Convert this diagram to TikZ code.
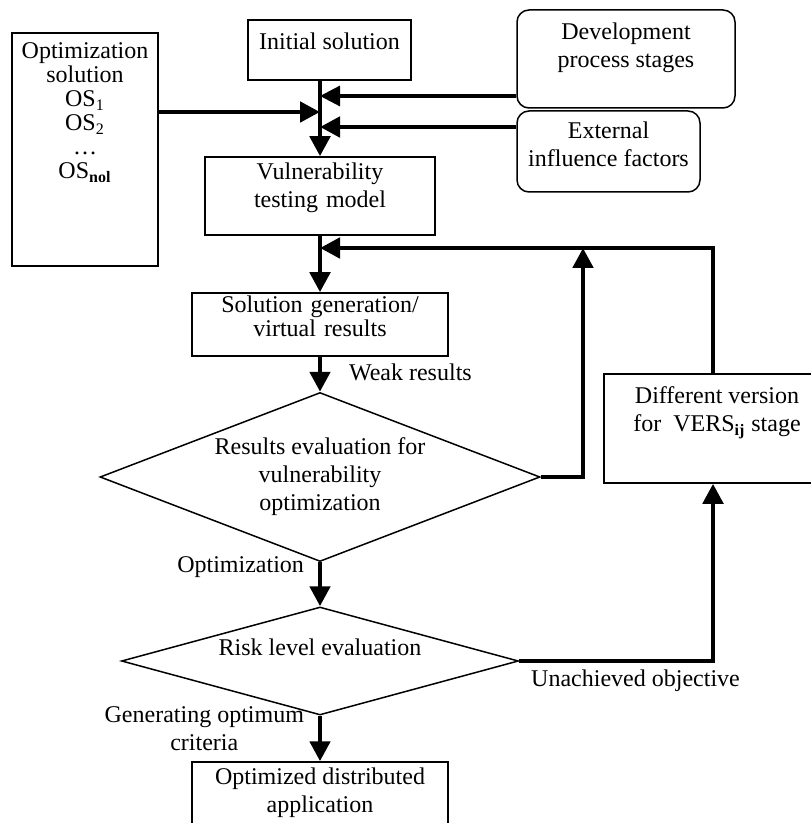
\documentclass[tikz,border=0pt]{standalone}
\usepackage{fontspec}
\setmainfont{Liberation Serif}
\usetikzlibrary{shapes.geometric, arrows.meta, calc, positioning, fit}

\begin{document}
\begin{tikzpicture}[x=0.5pt, y=-0.5pt, arrow/.style = {line width=2.4pt,-{Triangle[length=10pt,width=10pt]}}]
	\tikzset{set/.style={draw,rectangle,inner sep=0pt,line width=0.75pt,align=center},
		toptext/.style={anchor=north,inner sep=0pt,align=center,font=\fontsize{12}{14}\selectfont},
		decision/.style={draw,diamond,inner sep=0pt,line width=0.75pt,align=center},
		every node/.append style={font=\fontsize{12}{14}\selectfont}}
	\useasboundingbox (0,0) rectangle (810,823);

	% Inputs
	\node[fit={(12,33) (158,266)}, set, label={[toptext, yshift=-5pt, font=\fontsize{12}{12}\selectfont]north:{Optimization\\solution\\OS\textsubscript{1}\\OS\textsubscript{2}\\\dots\\OS\textsubscript{\textbf{nol}}}}] (os) {};
	\node[fit={(248,20) (411,80)}, set, label={[toptext, yshift=-6.5pt]north:Initial solution}] (init) {};
	\node[fit={(517,10) (735,108)}, set, rounded corners=6pt, label={[toptext, yshift=-6.5pt]north:{Development\\process stages}}] (dev) {};
	\node[fit={(517,111) (700,192)}, set, rounded corners=6pt, label={[toptext, yshift=-5.5pt]north:{External\\influence factors}}] (ext) {};

	% Model and evaluation
	\node[fit={(205,157) (435,235)}, set] (vuln) {Vulnerability\\testing model};
	\node[fit={(192,293) (448,356)}, set] (solgen) {Solution generation/\\[-2pt]virtual results};
	\node[decision, aspect=2.6, minimum width=220pt, minimum height=84.5pt] (eval) at (320,477) {Results evaluation for\\vulnerability\\optimization};
	\node[decision, aspect=3.67, minimum width=198.5pt, minimum height=54pt] (risk) at (320,661) {Risk level evaluation\\ \mbox{}};
	\node[fit={(604,374) (812,483)}, set, label={[toptext, yshift=-6.5pt, xshift=4.5pt]north:{Different version\\for\ \ VERS\textsubscript{\textbf{ij}} stage}}] (diffv) {};
	\node[fit={(192,762) (448,850)}, set, label={[toptext, yshift=-3pt]north:{Optimized distributed\\application}}] (opt) {};

	% Junctions
	\coordinate (jdev) at (320,96);
	\coordinate (jos) at (320,112);
	\coordinate (jext) at (320,127);
	\coordinate (jfb) at (320,248);
	\coordinate (cup) at (583,248);
	\coordinate (ctop) at (713,248);

	\draw [arrow] (init.south -| vuln.north) -- (vuln.north);
	\draw [arrow] (os.east |- jos) -- (jos);
	\draw [arrow, line width=1.6pt] (dev.west |- jdev) -- (jdev);
	\draw [arrow] (ext.west |- jext) -- (jext);
	\draw [arrow] (vuln.south) -- (solgen.north);
	\draw [arrow] (ctop |- diffv.north) -- (ctop) -- (jfb);
	\draw [arrow] (eval.east) -| (cup);

	\draw [arrow] (solgen.south) -- node [right, pos=0.45, xshift=10pt] {Weak results} (eval.north);
	\draw [arrow] (eval.south) -- node [left, pos=0.11, xshift=-3.5pt] {Optimization} (risk.north);
	\draw [arrow] (risk.east) -| node [below, pos=0.3] {Unachieved objective} (ctop |- diffv.south);
	\draw [arrow] (risk.south) -- node [left, pos=0.28, xshift=-3.5pt, align=center] {Generating optimum\\criteria} (opt.north);

\end{tikzpicture}
\end{document}
